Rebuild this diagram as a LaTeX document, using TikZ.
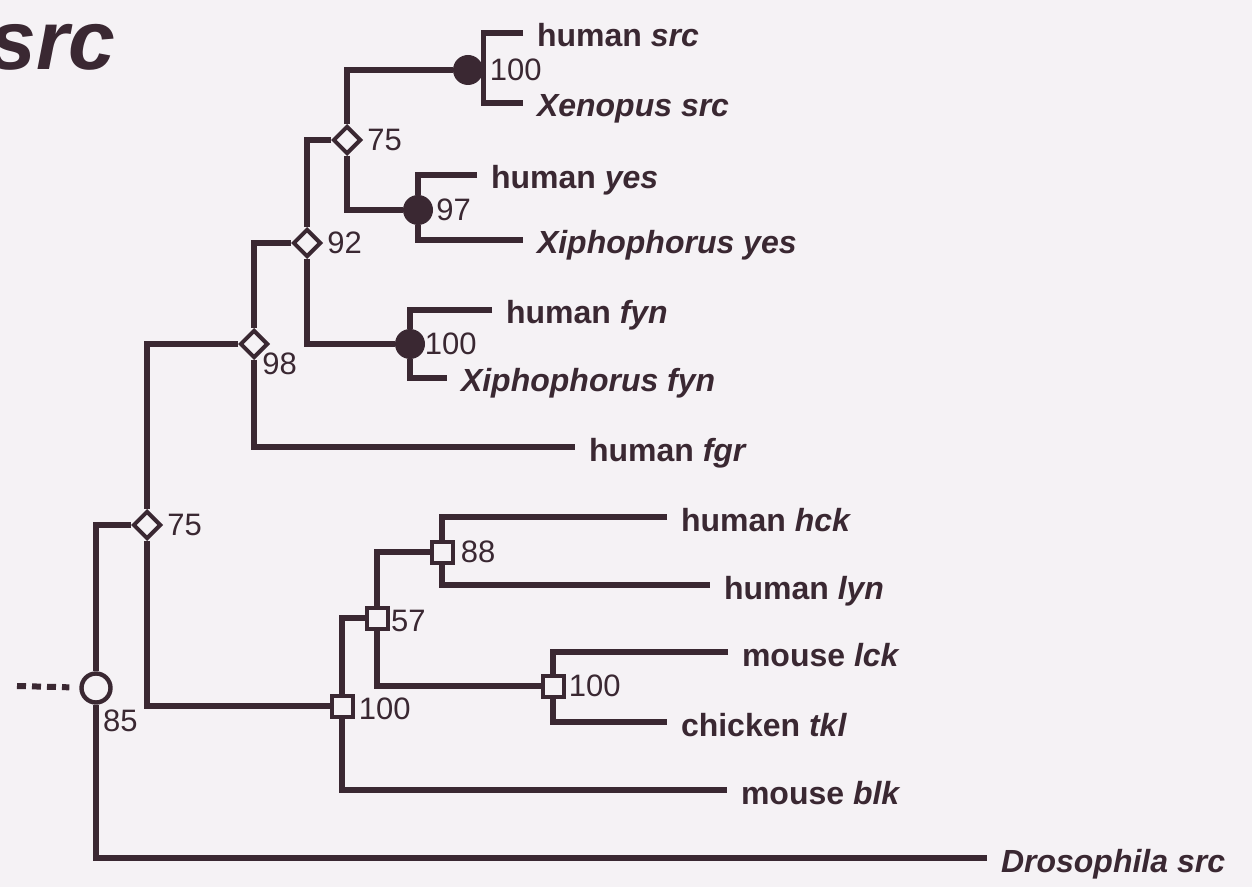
\documentclass[tikz,border=0pt]{standalone}
\usepackage{fontspec}
\setmainfont{Liberation Sans}
\definecolor{inkdark}{RGB}{58, 40, 50}
\definecolor{paper}{RGB}{245, 242, 245}
\usetikzlibrary{shapes.geometric, positioning}

\begin{document}
\begin{tikzpicture}[x=0.5pt, y=-0.5pt,
  branch/.style={draw=inkdark, line width=2.8pt},
  stubline/.style={draw=inkdark, line width=3pt, dash pattern=on 4.5pt off 3pt, shorten >=5pt},
  taxon/.style={anchor=west, inner xsep=7pt, inner ysep=0pt, outer sep=0pt, text height=14pt, text depth=0pt, text=inkdark, font=\fontsize{16}{18}\selectfont\bfseries},
  boot/.style={text=inkdark, inner sep=0pt, font=\fontsize{15.5}{17}\selectfont},
  fullnode/.style={circle, fill=inkdark, inner sep=0pt, minimum size=15pt},
  diamnode/.style={diamond, draw=inkdark, fill=paper, line width=2pt, inner sep=0pt, minimum size=14pt},
  sqnode/.style={rectangle, draw=inkdark, fill=paper, line width=2pt, inner sep=0pt, minimum size=10.5pt},
  opennode/.style={circle, draw=inkdark, fill=paper, line width=2.2pt, inner sep=0pt, minimum size=14.5pt},
]
  \useasboundingbox[fill=paper] (0,0) rectangle (1252,887);

  % title
  \node[anchor=base west, inner sep=0pt, text=inkdark, font=\fontsize{42}{46}\selectfont\bfseries\itshape] (title) at (-11,70) {src};

  % taxa
  \node[taxon] (hsrc) at (523,33) {human \textit{src}};
  \node[taxon] (xsrc) at (523,103) {\textit{Xenopus src}};
  \node[taxon] (hyes) at (477,175) {human \textit{yes}};
  \node[taxon] (xyes) at (523,240) {\textit{Xiphophorus yes}};
  \node[taxon] (hfyn) at (492,310) {human \textit{fyn}};
  \node[taxon] (xfyn) at (447,378) {\textit{Xiphophorus fyn}};
  \node[taxon] (hfgr) at (575,447) {human \textit{fgr}};
  \node[taxon] (hhck) at (667,517) {human \textit{hck}};
  \node[taxon] (hlyn) at (710,585) {human \textit{lyn}};
  \node[taxon] (mlck) at (728,652) {mouse \textit{lck}};
  \node[taxon] (ctkl) at (667,722) {chicken \textit{tkl}};
  \node[taxon] (mblk) at (727,790) {mouse \textit{blk}};
  \node[taxon] (dsrc) at (987,858) {\textit{Drosophila src}};

  % internal nodes with support values
  \node[fullnode, label={[boot, label distance=3pt]right:100}] (nsrc) at (468,70) {};
  \node[diamnode, label={[boot, label distance=2pt]right:75}] (nsy) at (347,140) {};
  \node[fullnode, label={[boot, label distance=1.3pt]right:97}] (nyes) at (418,210) {};
  \node[diamnode, label={[boot, label distance=2pt]right:92}] (nsyf) at (307,243) {};
  \node[fullnode, label={[boot, label distance=-0.5pt]right:100}] (nfyn) at (410,344) {};
  \node[diamnode, label={[boot, anchor=north west]-45:98}] (nfgr) at (254,344) {};
  \node[diamnode, label={[boot, label distance=2pt]right:75}] (nsf) at (147,525) {};
  \node[opennode, label={[boot, anchor=north west, xshift=-2.5pt, yshift=-5pt]-45:85}] (nroot) at (96,688) {};
  \node[sqnode, label={[boot, label distance=2pt, yshift=-1.5pt]right:100}] (nlb) at (342,706) {};
  \node[sqnode, label={[boot, label distance=0.6pt, yshift=-1.5pt]right:57}] (nhl) at (377,618) {};
  \node[sqnode, label={[boot, label distance=3pt]right:88}] (nhck) at (442,552) {};
  \node[sqnode, label={[boot, label distance=1.5pt]right:100}] (nlck) at (553,686) {};
  \coordinate (stub) at (17,686);

  % branches
  \draw[branch] (hsrc.west) -| (nsrc.east) |- (xsrc.west);
  \draw[branch] (hyes.west) -| (nyes) |- (xyes.west);
  \draw[branch] (hfyn.west) -| (nfyn) |- (xfyn.west);
  \draw[branch] (nsrc) -| (nsy) |- (nyes);
  \draw[branch] (nsy) -| (nsyf) |- (nfyn);
  \draw[branch] (nsyf) -| (nfgr) |- (hfgr.west);
  \draw[branch] (hhck.west) -| (nhck) |- (hlyn.west);
  \draw[branch] (mlck.west) -| (nlck) |- (ctkl.west);
  \draw[branch] (nhck) -| (nhl) |- (nlck);
  \draw[branch] (nhl) -| (nlb) |- (mblk.west);
  \draw[branch] (nfgr) -| (nsf) |- (nlb);
  \draw[branch] (nsf) -| (nroot) |- (dsrc.west);
  \draw[stubline] (stub) -- (nroot);
\end{tikzpicture}
\end{document}
